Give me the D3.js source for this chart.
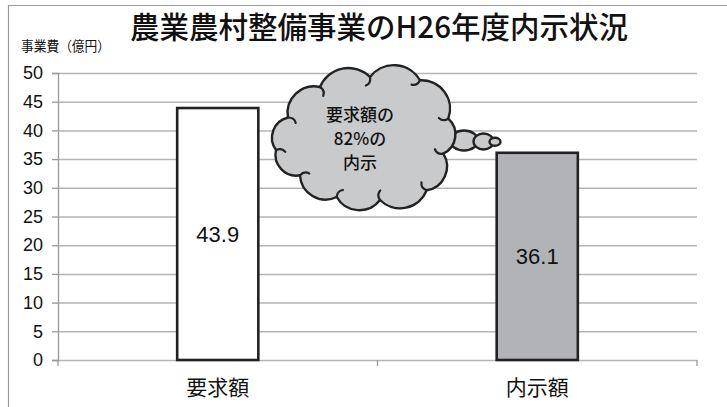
<!DOCTYPE html>
<html>
<head>
<meta charset="utf-8">
<script src="https://cdn.jsdelivr.net/npm/d3@7"></script>
<style>
  html, body { margin: 0; padding: 0; background: #fff; }
  svg { display: block; }
</style>
</head>
<body>
<script>
// Chart data
const categories = ["要求額", "内示額"];
const values = [43.9, 36.1];
const valueLabels = ["43.9", "36.1"];
const yTicks = [0, 5, 10, 15, 20, 25, 30, 35, 40, 45, 50];
const barFills = ["#ffffff", "#b2b3b7"];
const titleText = "農業農村整備事業のH26年度内示状況";
const yUnitText = "事業費（億円）";
const cloudLines = ["要求額の", "82%の", "内示"];

const W = 727, H = 407;
const margin = { left: 58, right: 30, top: 73, bottom: 47 };
const jp = "'Noto Sans CJK JP', 'Noto Sans', sans-serif";
const num = "'Liberation Sans', Arial, sans-serif";

const svg = d3.select("body").append("svg")
  .attr("width", W).attr("height", H);

// outer frame (top and left edges)
svg.append("path")
  .attr("d", `M8.5,${H} L8.5,5.5 L${W},5.5`)
  .attr("fill", "none").attr("stroke", "#9a9a9a").attr("stroke-width", 1.2);

const x = d3.scaleBand().domain(categories)
  .range([margin.left, W - margin.right]).padding(0);
const y = d3.scaleLinear().domain([0, 50])
  .range([H - margin.bottom, margin.top]);

// gridlines
svg.append("g")
  .attr("transform", `translate(${margin.left},0)`)
  .call(d3.axisLeft(y).tickValues(yTicks).tickSize(-(W - margin.right - margin.left)).tickFormat(""))
  .call(g => g.select(".domain").remove())
  .call(g => g.selectAll("line").attr("stroke", "#b5b5b5").attr("stroke-width", 1.5));

// y axis
svg.append("g")
  .attr("transform", `translate(${margin.left},0)`)
  .call(d3.axisLeft(y).tickValues(yTicks).tickSize(6).tickPadding(9))
  .call(g => g.select(".domain").attr("stroke", "#999").attr("stroke-width", 1.3))
  .call(g => g.selectAll("line").attr("stroke", "#999").attr("stroke-width", 1.3))
  .call(g => g.selectAll("text").attr("font-family", num).attr("font-size", 18).attr("fill", "#111"));

// x axis ticks at band boundaries
const xTickPos = [x.range()[0], x(categories[1]), x.range()[1]];
svg.append("g").selectAll("line").data(xTickPos).join("line")
  .attr("x1", d => d).attr("x2", d => d)
  .attr("y1", y(0)).attr("y2", y(0) + 6)
  .attr("stroke", "#999").attr("stroke-width", 1.3);

// category labels
svg.append("g").selectAll("text").data(categories).join("text")
  .attr("x", d => x(d) + x.bandwidth() / 2)
  .attr("y", y(0) + 35)
  .attr("text-anchor", "middle")
  .attr("font-family", jp).attr("font-size", 21).attr("fill", "#111")
  .text(d => d);

// bars
const barW = x.bandwidth() * 0.254;
const bars = svg.append("g");
bars.selectAll("rect").data(values).join("rect")
  .attr("x", (d, i) => x(categories[i]) + x.bandwidth() / 2 - barW / 2)
  .attr("y", d => y(d))
  .attr("width", barW)
  .attr("height", d => y(0) - y(d))
  .attr("fill", (d, i) => barFills[i])
  .attr("stroke", "#222").attr("stroke-width", 2.6);

// value labels inside bars
svg.append("g").selectAll("text").data(values).join("text")
  .attr("x", (d, i) => x(categories[i]) + x.bandwidth() / 2)
  .attr("y", d => (y(d) + y(0)) / 2 + 8)
  .attr("text-anchor", "middle")
  .attr("font-family", num).attr("font-size", 22).attr("fill", "#111")
  .text((d, i) => valueLabels[i]);

// title and unit label
svg.append("text")
  .attr("x", 130).attr("y", 38)
  .attr("font-family", jp).attr("font-size", 30).attr("font-weight", 500)
  .attr("textLength", 498).attr("lengthAdjust", "spacingAndGlyphs")
  .attr("fill", "#111")
  .text(titleText);
svg.append("text")
  .attr("x", 21).attr("y", 51)
  .attr("font-family", jp).attr("font-size", 14)
  .attr("textLength", 89).attr("lengthAdjust", "spacingAndGlyphs")
  .attr("fill", "#111")
  .text(yUnitText);

// thought-bubble callout
const cloud = svg.append("g");
const ink = "#222", cloudFill = "#c9cacc";

// trailing bubbles
[[464, 140.5, 14, 10], [483.5, 141.5, 10, 8], [495, 141.7, 5.5, 4]].forEach(([cx, cy, rx, ry]) => {
  cloud.append("ellipse")
    .attr("cx", cx).attr("cy", cy).attr("rx", rx).attr("ry", ry)
    .attr("fill", cloudFill).attr("stroke", ink).attr("stroke-width", 2.4);
});

// scalloped outline, clockwise from the left
const pts = [
  [276, 150], [288, 117.5], [320, 87], [370, 77], [420, 80.3],
  [448.3, 118.7], [443.3, 153.7], [426.7, 190.3], [380, 200],
  [336.7, 197], [300, 175.3]
];
let d = `M${pts[0][0]},${pts[0][1]}`;
pts.forEach((p, i) => {
  const q = pts[(i + 1) % pts.length];
  const chord = Math.hypot(q[0] - p[0], q[1] - p[1]);
  const r = chord * 0.6;
  d += ` A${r},${r} 0 0 1 ${q[0]},${q[1]}`;
});
d += " Z";
cloud.append("path").attr("d", d)
  .attr("fill", cloudFill).attr("stroke", ink).attr("stroke-width", 2.4)
  .attr("stroke-linejoin", "round");

// little inner curls at each scallop joint
const cx0 = 362, cy0 = 140;
const curl = d3.path();
pts.forEach(p => {
  const dx = cx0 - p[0], dy = cy0 - p[1];
  const len = Math.hypot(dx, dy);
  const ux = dx / len, uy = dy / len;
  const ex = p[0] + ux * 9 - uy * 3, ey = p[1] + uy * 9 + ux * 3;
  curl.moveTo(p[0], p[1]);
  curl.quadraticCurveTo(p[0] + ux * 6 + uy * 2, p[1] + uy * 6 - ux * 2, ex, ey);
});
cloud.append("path").attr("d", curl.toString())
  .attr("fill", "none").attr("stroke", ink).attr("stroke-width", 2.2)
  .attr("stroke-linecap", "round");

cloud.append("g").selectAll("text").data(cloudLines).join("text")
  .attr("x", 360)
  .attr("y", (t, i) => 121 + i * 24)
  .attr("text-anchor", "middle")
  .attr("font-family", jp).attr("font-size", 17).attr("font-weight", 500)
  .attr("fill", "#111")
  .text(t => t);
</script>
</body>
</html>
